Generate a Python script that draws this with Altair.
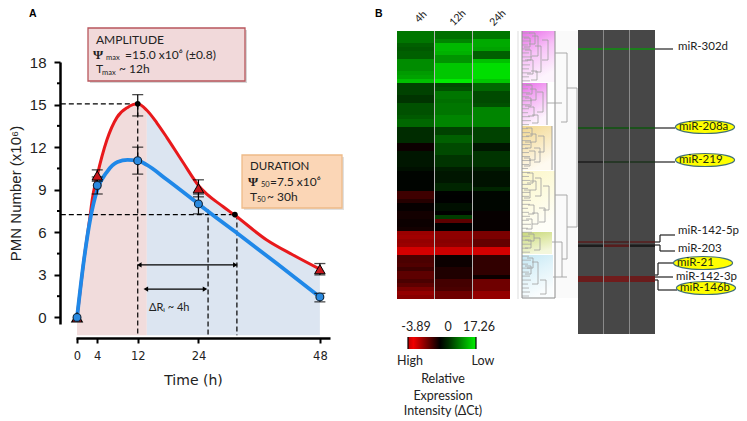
import altair as alt
import pandas as pd

# ---------- Panel A data ----------
red_t = [0, 1.2, 2.6, 3, 4, 5.9, 7.9, 10, 12, 13.8, 15.8, 17.8, 21, 24, 28.9, 31.2, 37.5, 42.7, 48]
red_v = [0, 3.6, 7.2, 8.3, 10, 12.5, 14.1, 14.8, 15.05, 14.6, 13.7, 12.66, 10.9, 9.3, 7.8, 7.2, 5.46, 4.4, 3.4]
blue_t = [0, 1.2, 2.6, 4, 6, 8, 10, 12, 13.8, 17.8, 24, 26.9, 31.6, 39.5, 48]
blue_v = [0, 3.6, 6.9, 9.0, 10.3, 10.95, 11.1, 11.05, 10.75, 9.7, 8.0, 7.2, 5.95, 3.8, 1.45]
pt_t = [4, 12, 24, 48]
red_pts = [10.0, 15.0, 9.1, 3.4]
red_lo = [9.6, 14.2, 8.5, 3.0]
red_hi = [10.4, 15.7, 9.7, 3.8]
blue_pts = [9.3, 11.05, 8.0, 1.45]
blue_lo = [8.7, 10.1, 7.3, 1.1]
blue_hi = [9.9, 12.0, 8.7, 1.7]
y_minor = [1.5, 4.5, 7.5, 10.5, 13.5, 16.5]
x_ticks = [0, 4, 12, 24, 48]
y_ticks = [0, 3, 6, 9, 12, 15, 18]

# ---------- Panel B data: heat map rows ----------
h4 = [8, 8, 8, 6.5, 6, 6.5, 6.5, 9.5, 9.5, 9.5, 10.5, 11, 13, 4.5, 4.5, 4.5, 3.5, 3.5, 5.5, 5.5, 5.5, 6, 7, 7,
      3, 3, 3, 3, -0.2, -0.2, 1.5, 1.5, 1.5, 1.5, 1, 0.3, 0.3, 0.3, 0.3, 0.3, -1, -1, -0.6, -0.1, -0.1,
      -0.3, -0.3, -0.2, -0.2, -0.3, -2.5, -2.6, -2.4, -2.5, -3.4, -3.4, -1.2, -1.2, -1.3, -1, -1.5, -1.5, -1.2, -1.5, -2, -2.4, -2.2]
h12 = [7.5, 7.5, 9, 12.5, 12.5, 12, 10, 10, 13.5, 13.5, 13.5, 13.5, 16, 5, 5.5, 8, 8, 7.5, 8, 8, 8, 9, 9, 9,
       4.5, 4.5, 6.5, 6.5, 5, 5, 5, 3.5, 3.5, 3.5, 2, 1.5, 1.5, 1.5, 2.5, 2.5, 0.1, 0, 0, 1, 1,
       0, 4, -1.5, 0, 0, -2.3, -2.3, -2.2, -2.3, -3.3, -3.3, -0.2, -0.2, -0.2, -0.5, -0.5, -0.5, -1.1, -1.1, -1.2, -1.8, -1.8]
h24 = [8, 8, 11.5, 11.5, 11, 6.5, 6.5, 13, 15, 15, 15, 15, 13.5, 7, 7, 5, 5, 5, 5.5, 9, 9, 9, 9, 9,
       4.5, 4.5, 4.5, 4.5, 1.5, 1.5, 3.5, 3.5, 3.5, 3.5, 2, 1.2, 1.2, 1.2, 1.2, 2.5, 0.4, 0.4, 0.4, 0.4, 0.4,
       -0.1, -0.1, -0.1, -0.1, -0.1, -2, -2, -1.6, -1.6, -3.4, -3.4, -0.8, -0.8, -0.8, -0.8, -0.8, -0.2, -1.8, -1.8, -1.8, -2.4, -2.4]
col_names = ["4h", "12h", "24h"]

# highlighted miRNA rows of the masked map: page row, thickness, value per time point
mask_y = [49, 128, 162, 242, 245.7, 279]
mask_h = [2, 2, 1.5, 1.5, 2.5, 6]
mask_4 = [11, 6, 0, -1.6, 0, -2.1]
mask_12 = [11, 6, 2.5, -1.2, -1.6, -2.3]
mask_24 = [11, 6, 2.5, -1.6, 0, -2.1]

leaf_len = [8, 7, 9, 6, 8, 7, 10, 6, 8, 7, 9, 7, 8, 9, 6, 8, 7, 10, 8, 7, 6, 8, 9, 7, 6, 8, 7, 9, 8, 6, 7, 8, 9, 7,
            6, 8, 7, 8, 9, 6, 8, 7, 9, 8, 6, 7, 8, 7, 9, 6, 10, 8, 7, 9, 6, 8, 7, 9, 6, 8, 7, 8, 9, 6, 7, 8, 7]
# inner dendrogram brackets: position, top, bottom
br_x = [535, 530, 538, 531, 541, 533, 548, 537, 532, 536, 531, 543, 534, 538, 532, 536, 531, 544, 535, 530, 540, 533, 536, 530, 541, 534, 549, 538, 532, 545, 534, 531, 540, 533, 531, 538, 546]
br_t = [33, 38, 36, 50, 46, 60, 40, 71, 85, 89, 98, 92, 107, 115, 128, 134, 142, 136, 151, 158, 148, 173, 181, 190, 178, 205, 186, 213, 219, 208, 234, 240, 238, 258, 266, 262, 280]
br_b = [44, 47, 56, 60, 72, 74, 60, 80, 94, 100, 106, 112, 116, 123, 136, 142, 148, 152, 160, 166, 162, 183, 190, 198, 196, 214, 210, 224, 229, 222, 241, 248, 250, 268, 274, 284, 294]

# page-wide annotation geometry
seg_x0 = [555, 567, 561, 547, 567, 577, 567, 555, 567, 567, 562, 552, 553, 562]
seg_x1 = [567, 567, 567, 562, 577, 577, 577, 567, 567, 562, 562, 562, 562, 567]
seg_y0 = [53, 53, 122, 103, 88, 88, 227, 195, 195, 259, 242, 242, 277, 277]
seg_y1 = [53, 122, 122, 103, 88, 227, 227, 195, 259, 259, 277, 242, 277, 277]
conn_x0 = [655, 655, 655, 655, 660, 660, 655, 660, 660, 655, 658, 658, 655, 655, 658, 658]
conn_x1 = [673, 675, 675, 660, 660, 675, 660, 660, 675, 658, 658, 675, 673, 658, 658, 677]
conn_y0 = [49, 128, 162, 242, 242, 235, 245, 245, 251, 275, 275, 263, 277, 280, 280, 290]
conn_y1 = [49, 128, 162, 242, 235, 235, 245, 251, 251, 275, 263, 263, 277, 280, 290, 290]
plain_labels = ["miR-302d", "miR-142-5p", "miR-203", "miR-142-3p"]
plain_x = [678, 678, 678, 676]
plain_y = [47, 231, 249, 277]
oval_labels = ["miR-208a", "miR-219", "miR-21", "miR-146b"]
oval_x = [705, 705, 703, 706]
oval_y = [127, 160, 263, 288]

P_W, P_H = 254, 262
X_A = alt.Scale(domain=[-0.2, 50], nice=False, zero=False)
Y_A = alt.Scale(domain=[-0.46, 18], nice=False, zero=False)
BOT = -1.25

AX_X = alt.Axis(values=x_ticks, offset=14, grid=False, domainWidth=2.5, domainColor="black",
                tickColor="black", tickWidth=2, tickSize=5, labelFont="DejaVu Sans", labelFontSize=11.5,
                labelColor="#222", labelPadding=7, titleFont="DejaVu Sans", titleFontSize=14, titleFontWeight="normal",
                titleColor="#222", titlePadding=12, titleX=117, labelFlush=False, labelOverlap=False)
AX_Y = alt.Axis(values=y_ticks, offset=16, grid=False, domainWidth=2.5, domainColor="black",
                tickColor="black", tickWidth=2, tickSize=6, labelFont="Liberation Sans", labelFontSize=15,
                labelColor="#222", labelPadding=8, titleFont="Liberation Sans", titleFontSize=15, titleFontWeight="normal",
                titleColor="#222", titlePadding=6)

def X(f, **k):
    return alt.X(f"{f}:Q", scale=X_A, axis=AX_X, title="Time (h)", **k)

def Y(f, **k):
    return alt.Y(f"{f}:Q", scale=Y_A, axis=AX_Y, title="PMN Number (x10⁶)", **k)

red_df = pd.DataFrame({"t": red_t, "v": red_v, "b": [BOT] * len(red_t)})
blue_df = pd.DataFrame({"t": blue_t, "v": blue_v})
pts = pd.DataFrame({"t": pt_t, "r": red_pts, "rl": red_lo, "rh": red_hi, "b": blue_pts, "bl": blue_lo, "bh": blue_hi})

pink_df = red_df[red_df.t <= 13.8]
blue_area_df = red_df[red_df.t >= 13.8]

dash = pd.DataFrame({"x0": [-3.2, -3.2, 12, 25.9, 31.6], "x1": [12, 31.2, 12, 25.9, 31.6],
                     "y0": [15.05, 7.25, 15, 7.6, 7.25], "y1": [15.05, 7.25, BOT, BOT, BOT]})
arrows = pd.DataFrame({"x0": [12.3, 13.6], "x1": [31.3, 25.3], "y": [3.7, 2.0]})

layers_a = [
    alt.Chart(pink_df).mark_area(color="#f1dcdc", interpolate="monotone").encode(x=X("t"), y=Y("v"), y2=alt.Y2("b:Q")),
    alt.Chart(blue_area_df).mark_area(color="#dce5f1", interpolate="monotone").encode(x=X("t"), y=Y("v"), y2=alt.Y2("b:Q")),
    alt.Chart(pd.DataFrame({"m": y_minor})).mark_rule(color="black", strokeWidth=2).encode(
        x=alt.value(-19), x2=alt.value(-16), y=Y("m")),
    alt.Chart(dash).mark_rule(color="black", strokeWidth=1.2, strokeDash=[5, 3]).encode(
        x=X("x0"), x2="x1:Q", y=Y("y0"), y2="y1:Q"),
    alt.Chart(red_df).mark_line(color="#e8191c", strokeWidth=3, interpolate="monotone").encode(x=X("t"), y=Y("v")),
    alt.Chart(blue_df).mark_line(color="#2088e8", strokeWidth=3.8, interpolate="monotone").encode(x=X("t"), y=Y("v")),
    alt.Chart(arrows).mark_rule(color="black", strokeWidth=1.2).encode(x=X("x0"), x2="x1:Q", y=Y("y")),
    alt.Chart(arrows).mark_point(shape="triangle-left", filled=True, color="black", size=28, opacity=1).encode(x=X("x0"), y=Y("y")),
    alt.Chart(arrows).mark_point(shape="triangle-right", filled=True, color="black", size=28, opacity=1).encode(x=X("x1"), y=Y("y")),
]
for lo, hi in (("rl", "rh"), ("bl", "bh")):
    layers_a.append(alt.Chart(pts).mark_rule(color="black", strokeWidth=1.2).encode(x=X("t"), y=Y(lo), y2=f"{hi}:Q"))
    for c in (lo, hi):
        layers_a.append(alt.Chart(pts).mark_tick(color="black", orient="horizontal", size=11, thickness=1.3).encode(x=X("t"), y=Y(c)))
layers_a += [
    alt.Chart(pd.DataFrame({"t": [0], "r": [0]})).mark_point(shape="triangle-up", filled=True, color="#c8161c", stroke="black", strokeWidth=1.2, size=110, opacity=1).encode(x=X("t"), y=Y("r")),
    alt.Chart(pts[pts.t != 12]).mark_point(shape="triangle-up", filled=True, color="#c8161c", stroke="black", strokeWidth=1, size=110, opacity=1).encode(x=X("t"), y=Y("r")),
    alt.Chart(pd.DataFrame({"t": [0, 4, 12, 24, 48], "b": [0] + blue_pts})).mark_point(shape="circle", filled=True, color="#2a8ae0", stroke="#123", strokeWidth=1.1, size=62, opacity=1).encode(x=X("t"), y=Y("b")),
    alt.Chart(pd.DataFrame({"t": [12, 31.2], "v": [15.05, 7.25]})).mark_point(shape="circle", filled=True, color="black", size=32, opacity=1).encode(x=X("t"), y=Y("v")),
]
panel_a = alt.layer(*layers_a)

# ---------- Heat map ----------
rows = []
for c, vals in enumerate((h4, h12, h24)):
    for r, v in enumerate(vals):
        rows.append({"c0": c, "c1": c + 1, "r0": r, "r1": r + 1, "v": v})
heat_color = alt.Scale(domain=[-3.89, 0, 17.26], range=["#f00000", "#000000", "#00ff00"], interpolate="rgb")
HX = alt.Scale(domain=[0, 3], range=[397 - 76, 510 - 76], nice=False, zero=False)
HY = alt.Scale(domain=[0, 67], range=[31 - 62, 299 - 62], nice=False, zero=False)
heat = alt.Chart(pd.DataFrame(rows)).mark_rect(strokeWidth=0).encode(
    x=alt.X("c0:Q", scale=HX, axis=None), x2="c1:Q",
    y=alt.Y("r0:Q", scale=HY, axis=None), y2="r1:Q",
    color=alt.Color("v:Q", scale=heat_color, legend=None))

# ---------- Page-position overlay ----------
OX = alt.Scale(domain=[76, 330], nice=False, zero=False)
OY = alt.Scale(domain=[324, 62], nice=False, zero=False)

def ox(f="x", **k):
    return alt.X(f"{f}:Q", scale=OX, axis=None, **k)

def oy(f="y", **k):
    return alt.Y(f"{f}:Q", scale=OY, axis=None, **k)

def box(x0, x1, y0, y1, **mark):
    return alt.Chart(pd.DataFrame({"x": [x0], "x1": [x1], "y": [y0], "y1": [y1]})).mark_rect(**mark).encode(
        x=ox(), x2="x1:Q", y=oy(), y2="y1:Q")

def seg(x0, x1, y0, y1, **mark):
    return alt.Chart(pd.DataFrame({"x": x0, "x1": x1, "y": y0, "y1": y1})).mark_rule(**mark).encode(
        x=ox(), x2="x1:Q", y=oy(), y2="y1:Q")

def txt(s, x, y, size=11, font="Lato", color="#222", align="left", **mark):
    return alt.Chart(pd.DataFrame({"x": [x], "y": [y], "s": [s]})).mark_text(
        fontSize=size, font=font, color=color, align=align, baseline="middle", **mark).encode(
        x=ox(), y=oy(), text="s:N")

def grad(stops):
    return {"gradient": "linear", "x1": 0, "y1": 0, "x2": 0.35, "y2": 1,
            "stops": [{"offset": o, "color": c} for o, c in stops]}

ov = [
    # boxes
    box(90, 247, 30, 83, color="#bbbbbb", opacity=0.6),
    box(88, 245, 28, 81, fill="#f1d9da", stroke="#b8565c", strokeWidth=1.3),
    box(244, 344, 157, 210, color="#cccccc", opacity=0.6),
    box(242, 342, 155, 208, fill="#fbd6b6", stroke="#eebb88", strokeWidth=1.3),
    txt("AMPLITUDE", 96, 40, 12),
    txt("Ψ", 93, 55, 13, "Liberation Serif", fontWeight="bold"),
    txt("max", 106, 58, 7.5),
    txt("=15.0 x10⁶ (±0.8)", 125, 55, 12),
    txt("T", 96, 69, 12),
    txt("max", 102, 73, 7.5),
    txt("~ 12h", 119, 69, 12),
    txt("DURATION", 250, 167, 11.5),
    txt("Ψ", 248, 182, 13, "Liberation Serif", fontWeight="bold"),
    txt("50", 261, 185, 7.5),
    txt("=7.5 x10⁶", 270, 182, 12),
    txt("T", 250, 197, 12),
    txt("50", 257, 200, 7.5),
    txt("~ 30h", 267, 197, 12),
    txt("ΔRᵢ ~ 4h", 149, 308, 11),
    txt("A", 29, 14, 10.5, "Liberation Sans", "black", fontWeight="bold"),
    txt("B", 375, 14, 10.5, "Liberation Sans", "black", fontWeight="bold"),
    # column heads
    txt("4h", 421, 17, 10.5, align="center", angle=315),
    txt("12h", 458, 18, 10.5, align="center", angle=315),
    txt("24h", 498, 18, 10.5, align="center", angle=315),
    # heat map column separators
    seg([434.5, 472.5], [434.5, 472.5], [31, 31], [299, 299], color="#b4b4b4", strokeWidth=1),
    seg([518], [518], [31], [299], color="#dddddd", strokeWidth=1),
    # colour bar
    box(408, 476, 337, 349, fill={"gradient": "linear", "x1": 0, "y1": 0, "x2": 1, "y2": 0, "stops": [
        {"offset": 0, "color": "#c00000"}, {"offset": 0.08, "color": "#f00000"}, {"offset": 0.47, "color": "#000000"},
        {"offset": 0.6, "color": "#003000"}, {"offset": 1, "color": "#00f000"}]}),
    seg([408, 476], [408, 476], [337, 337], [349, 349], color="black", strokeWidth=1.2),
    txt("-3.89", 416, 327, 12.5, align="center"),
    txt("0", 448, 327, 12.5, align="center"),
    txt("17.26", 479, 327, 12.5, align="center"),
    txt("High", 410, 361, 12.5, align="center"),
    txt("Low", 483, 361, 12.5, align="center"),
    txt("Relative", 443, 379, 12.5, align="center"),
    txt("Expression", 443, 396, 12.5, align="center"),
    txt("Intensity (ΔCt)", 443, 411, 12.5, align="center"),
    # dendrogram clusters
    box(555, 578, 31, 298, fill="#fafafa"),
    box(522, 555, 31, 82, fill=grad([(0, "#e86de8"), (0.5, "#f8c2f8"), (1, "#fdf4fd")])),
    box(522, 547, 83, 125, fill=grad([(0, "#e86de8"), (0.5, "#f6b8f6"), (1, "#fdf4fd")])),
    box(522, 552, 126, 170, fill=grad([(0, "#f2d890"), (0.5, "#f9e9bf"), (1, "#fefaf0")])),
    box(522, 555, 171, 231, fill=grad([(0, "#fbf6c8"), (0.5, "#fdfbdf"), (1, "#fefef8")])),
    box(522, 552, 232, 254, fill=grad([(0, "#c8d87a"), (0.6, "#e4ecb4"), (1, "#f4f7dc")])),
    box(522, 553, 255, 298, fill=grad([(0, "#c5e8f4"), (0.5, "#e2f4fa"), (1, "#fafdfe")])),
]
# leaves
ly = [31 + r * 267 / 67 + 2 for r in range(67)]
ov.append(seg([522] * 67, [522 + v for v in leaf_len], ly, ly, color="#a8a8a8", strokeWidth=0.8))
# brackets
ov.append(seg(br_x, br_x, br_t, br_b, color="#a0a0a0", strokeWidth=0.8))
ov.append(seg([x - 6 for x in br_x], br_x, br_t, br_t, color="#a0a0a0", strokeWidth=0.8))
ov.append(seg([x - 6 for x in br_x], br_x, br_b, br_b, color="#a0a0a0", strokeWidth=0.8))
ov += [
    seg([522, 522, 555], [555, 522, 555], [298, 31, 31], [298, 298, 298], color="#8c8c8c", strokeWidth=1),
    seg([547, 552], [547, 552], [83, 126], [125, 170], color="#8c8c8c", strokeWidth=0.8),
    seg(seg_x0, seg_x1, seg_y0, seg_y1, color="#a0a0a0", strokeWidth=0.9),
    # masked map
    box(578, 655, 30, 334, fill="#474747"),
]
mask_rows = []
for c, vals in enumerate((mask_4, mask_12, mask_24)):
    for y, h, v in zip(mask_y, mask_h, vals):
        mask_rows.append({"c0": c, "c1": c + 1, "y": y - h / 2, "y1": y + h / 2, "v": v})
MX = alt.Scale(domain=[0, 3], range=[578 - 76, 655 - 76], nice=False, zero=False)
mask = alt.Chart(pd.DataFrame(mask_rows)).mark_rect(strokeWidth=0, opacity=0.6).encode(
    x=alt.X("c0:Q", scale=MX, axis=None), x2="c1:Q", y=oy(), y2="y1:Q",
    color=alt.Color("v:Q", scale=heat_color, legend=None))

after = [
    seg([603.5, 629.5], [603.5, 629.5], [30, 30], [334, 334], color="#8a8a8a", strokeWidth=1),
    seg(conn_x0, conn_x1, conn_y0, conn_y1, color="#222222", strokeWidth=1.2),
    alt.Chart(pd.DataFrame({"x": oval_x, "y": oval_y})).mark_point(
        shape="M-0.5,0 A0.5,0.11 0 1,1 0.5,0 A0.5,0.11 0 1,1 -0.5,0 Z", filled=True, fill="#ffff00", stroke="#3f6f78",
        strokeWidth=1.2, size=14000, opacity=1).encode(x=ox(), y=oy()),
]
for s, x, y in zip(oval_labels, oval_x, oval_y):
    after.append(txt(s, x - 26, y, 11.5, color="#1a2a10"))
for s, x, y in zip(plain_labels, plain_x, plain_y):
    after.append(txt(s, x, y, 11.5))

panel_o1 = alt.layer(*ov)
panel_o2 = alt.layer(*after)

chart = alt.layer(panel_a, heat, panel_o1, mask, panel_o2).resolve_scale(
    x="independent", y="independent", color="independent"
).properties(
    width=P_W, height=P_H,
    autosize=alt.AutoSizeParams(type="none"),
    padding={"left": 68, "top": 54, "right": 409, "bottom": 97},
).configure_view(stroke=None)

chart.save("out.html", embed_options={"renderer": "svg", "actions": False})
